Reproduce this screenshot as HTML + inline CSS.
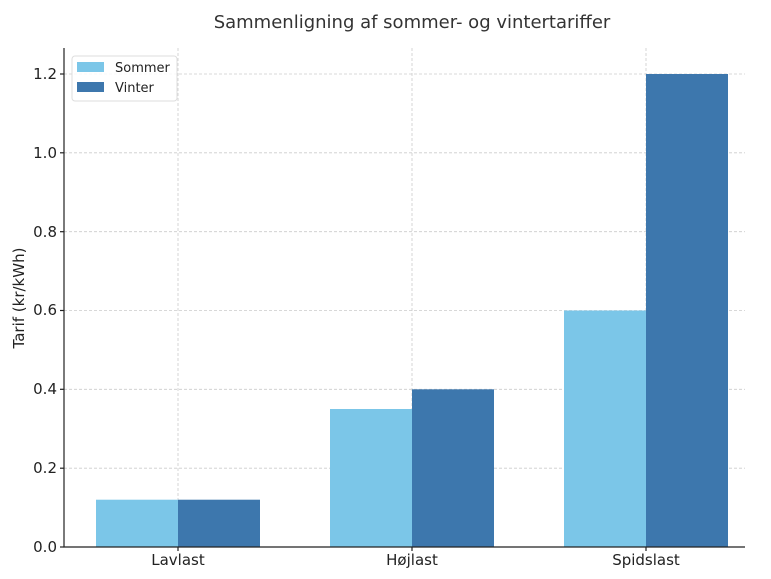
<!DOCTYPE html><html><head><meta charset="utf-8"><style>body{margin:0;background:#fff}</style></head><body>
<svg width="771" height="574" xmlns="http://www.w3.org/2000/svg" font-family="'DejaVu Sans','Liberation Sans',sans-serif">
<rect width="771" height="574" fill="#fff"/>
<text x="412" y="28" text-anchor="middle" font-size="18" fill="#333">Sammenligning af sommer- og vintertariffer</text>
<g stroke="#ccc" stroke-dasharray="3,2" stroke-width="0.8">
<line x1="178" y1="48" x2="178" y2="547"/><line x1="412" y1="48" x2="412" y2="547"/><line x1="646" y1="48" x2="646" y2="547"/>
<line x1="64" y1="468.2" x2="745" y2="468.2"/><line x1="64" y1="389.3" x2="745" y2="389.3"/><line x1="64" y1="310.5" x2="745" y2="310.5"/><line x1="64" y1="231.7" x2="745" y2="231.7"/><line x1="64" y1="152.8" x2="745" y2="152.8"/><line x1="64" y1="74" x2="745" y2="74"/>
</g>
<g fill="#7bc6e8">
<rect x="96" y="499.7" width="82" height="47.3"/><rect x="330" y="409" width="82" height="138"/><rect x="564" y="310.5" width="82" height="236.5"/>
</g>
<g fill="#3d77ad">
<rect x="178" y="499.7" width="82" height="47.3"/><rect x="412" y="389.3" width="82" height="157.7"/><rect x="646" y="74" width="82" height="473"/>
</g>
<g stroke="#222" stroke-width="1.2"><line x1="64" y1="48" x2="64" y2="547.5"/><line x1="63.5" y1="547" x2="745" y2="547"/>
<line x1="60" y1="547" x2="64" y2="547"/><line x1="60" y1="468.2" x2="64" y2="468.2"/><line x1="60" y1="389.3" x2="64" y2="389.3"/><line x1="60" y1="310.5" x2="64" y2="310.5"/><line x1="60" y1="231.7" x2="64" y2="231.7"/><line x1="60" y1="152.8" x2="64" y2="152.8"/><line x1="60" y1="74" x2="64" y2="74"/>
<line x1="178" y1="547" x2="178" y2="551"/><line x1="412" y1="547" x2="412" y2="551"/><line x1="646" y1="547" x2="646" y2="551"/></g>
<g font-size="15" fill="#222" text-anchor="end">
<text x="57" y="552">0.0</text><text x="57" y="473">0.2</text><text x="57" y="394">0.4</text><text x="57" y="315">0.6</text><text x="57" y="237">0.8</text><text x="57" y="158">1.0</text><text x="57" y="79">1.2</text></g>
<g font-size="15" fill="#222" text-anchor="middle"><text x="178" y="565">Lavlast</text><text x="412" y="565">Højlast</text><text x="646" y="565">Spidslast</text></g>
<text transform="translate(24,298) rotate(-90)" text-anchor="middle" font-size="15" fill="#222">Tarif (kr/kWh)</text>
<rect x="72" y="56" width="105" height="45" rx="3" fill="#fff" fill-opacity="0.85" stroke="#ddd"/>
<rect x="77" y="62" width="27" height="10" fill="#7bc6e8"/><rect x="77" y="82" width="27" height="10" fill="#3d77ad"/>
<text x="115" y="72" font-size="13" fill="#222">Sommer</text><text x="115" y="92" font-size="13" fill="#222">Vinter</text>
</svg></body></html>
